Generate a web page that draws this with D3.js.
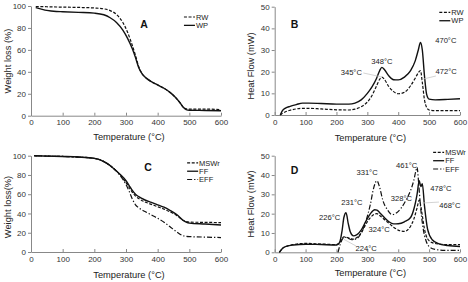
<!DOCTYPE html>
<html>
<head>
<meta charset="utf-8">
<script src="https://cdn.jsdelivr.net/npm/d3@7"></script>
<style>
  body { margin: 0; background: #fff; }
  svg { font-family: "Liberation Sans", Arial, sans-serif; }
  .axis path, .axis line { stroke: #888; }
  .axis text { fill: #333; font-size: 8px; }
</style>
</head>
<body>
<script>
// ---- data ----
var xTicks = [0, 100, 200, 300, 400, 500, 600];

// A: TGA of RW / WP
var tempA = [15, 30, 50, 80, 100, 150, 200, 230, 250, 270, 290, 305, 320, 330, 340, 350, 365, 380, 400, 420, 440, 455, 470, 480, 490, 500, 550, 600];
var rwA   = [99.5, 99.5, 99.3, 99.1, 99, 98.7, 98.2, 97.4, 95.8, 92.3, 85, 76, 64, 55, 45, 38.5, 34, 31, 28, 25, 21, 17, 12, 8, 6.3, 6, 6, 5.6];
var wpA   = [98.5, 97.4, 96, 95, 94.8, 94.2, 93.5, 92, 89.3, 85, 78, 70.5, 61, 53, 44, 38.5, 34, 31, 28, 25, 21, 17, 12, 8, 5.6, 5, 4.8, 4.5];

// B: DSC of RW / WP
var tempB = [18, 25, 35, 50, 70, 90, 110, 150, 200, 240, 260, 280, 300, 315, 330, 340, 347, 355, 370, 385, 400, 420, 440, 455, 465, 472, 478, 485, 492, 500, 520, 560, 600];
var wpB   = [0, 2, 3.2, 4, 4.8, 5.5, 5.5, 5.3, 5, 5, 5.5, 7, 10, 13, 17, 20.5, 22, 21, 18, 16.3, 16.2, 17.5, 20.5, 25, 30, 33.5, 30, 18, 9.5, 7.3, 7, 7.2, 7.5];
var rwB   = [0, 0.8, 1.5, 2.2, 2.8, 3.1, 3.1, 2.8, 2.4, 2.3, 2.7, 3.8, 6, 9, 13.5, 16.5, 17.5, 16.5, 13, 10.8, 9.8, 10.5, 13.5, 17, 19.5, 20.5, 15, 7, 3.5, 2.3, 2, 2, 2];

// C: TGA of MSWr / FF / EFF
var tempC  = [10, 50, 100, 150, 200, 220, 240, 260, 280, 300, 310, 320, 330, 340, 360, 380, 400, 420, 440, 460, 480, 490, 500, 550, 600];
var mswrC  = [100, 99.6, 99.2, 98.6, 97.2, 95.5, 92, 87, 80.5, 72, 67, 62, 58, 55.5, 52, 49.5, 47, 44.5, 41.5, 38, 33, 31.5, 31, 30.8, 30.5];
var ffC    = [100, 99.6, 99.2, 98.6, 97.2, 95.5, 92, 87, 81, 74, 69, 64, 60, 57.5, 54, 51.5, 49, 46.5, 43, 39, 33, 31, 30, 29, 28];
var effC   = [100, 99.6, 99.2, 98.6, 97.2, 95.5, 92, 87, 80, 70, 63, 55, 49, 46, 42, 38.5, 35, 31, 26, 21, 17, 16.3, 16, 15.5, 15];

// D: DSC of MSWr / FF / EFF
var tempD  = [15, 25, 40, 60, 100, 150, 200, 210, 218, 224, 231, 238, 245, 255, 265, 280, 295, 310, 324, 331, 340, 355, 370, 385, 400, 420, 440, 450, 461, 468, 473, 478, 485, 495, 510, 530, 560, 600];
var mswrD  = [0, 2, 3.2, 4, 4.6, 4.3, 4, 5, 7, 8, 7.8, 7.5, 7.2, 6.8, 7.5, 10, 14.5, 18, 19.8, 20, 19, 17, 15, 13, 11.5, 10.8, 13.5, 17, 23, 27, 24, 19, 12, 7, 5, 4.3, 4, 4];
var ffD    = [0, 2, 3.2, 3.8, 4.2, 4, 3.8, 5, 11, 18, 20.5, 15, 10.5, 8.5, 9, 11.5, 16, 20, 22, 21.8, 20.5, 18, 15.8, 14.7, 14.8, 15.8, 18, 22, 30, 37, 34, 35.5, 24, 12, 6.5, 4.5, 3.5, 3];
var tempE  = [205, 212, 220, 226, 235, 250, 265, 280, 295, 310, 320, 331, 340, 350, 365, 380, 395, 410, 425, 440, 450, 457, 461, 466, 472, 480, 490, 500, 520, 550, 600];
var effD   = [0, 4, 7, 7.8, 7.5, 6.5, 7, 10, 16, 25, 33, 37, 33.5, 27, 22, 19.5, 20.5, 23, 27, 32, 37, 42, 44, 36, 24, 13, 6, 3, 1.5, 1, 1];

var dashes = { solid: null, dash: "3,1.6", dashdot: "5,2,1.3,2" };

var svg = d3.select("body").append("svg")
    .attr("width", 468).attr("height", 282);

function zip(xs, ys){ return xs.map(function(t, i){ return [t, ys[i]]; }); }

function panel(opt){
    var x = d3.scaleLinear().domain([0, 600]).range(opt.xr);
    var y = d3.scaleLinear().domain([0, opt.ymax]).range(opt.yr);
    var g = svg.append("g");

    g.append("g").attr("class", "axis")
        .attr("transform", "translate(0," + opt.yr[0] + ")")
        .call(d3.axisBottom(x).tickValues(xTicks).tickSizeInner(-3).tickSizeOuter(0).tickPadding(4));
    g.append("g").attr("class", "axis")
        .attr("transform", "translate(" + opt.xr[0] + ",0)")
        .call(d3.axisLeft(y).ticks(5).tickSizeInner(3).tickSizeOuter(0).tickPadding(2));
    g.selectAll(".axis .domain").attr("stroke", "#888");

    var line = d3.line().x(function(d){ return x(d[0]); }).y(function(d){ return y(d[1]); })
        .curve(d3.curveMonotoneX);

    opt.series.forEach(function(s){
        g.append("path").datum(zip(s.t, s.v))
            .attr("d", line).attr("fill", "none").attr("stroke", "#111")
            .attr("stroke-width", s.style == "solid" ? 1.4 : 1.2)
            .attr("stroke-dasharray", dashes[s.style]);
    });

    // axis titles
    g.append("text").attr("x", (opt.xr[0] + opt.xr[1]) / 2 + 3).attr("y", opt.xtY)
        .attr("text-anchor", "middle").attr("font-size", 9.3).attr("fill", "#222")
        .text("Temperature (°C)");
    g.append("text").attr("transform", "translate(" + opt.ytX + "," + opt.ytY + ") rotate(-90)")
        .attr("text-anchor", "middle").attr("font-size", 9.3).attr("fill", "#222")
        .text(opt.ylabel);

    // panel letter
    g.append("text").attr("x", x(opt.letterAt[0])).attr("y", y(opt.letterAt[1]))
        .attr("font-size", 10.5).attr("font-weight", "bold").attr("fill", "#111")
        .text(opt.letter);

    // legend
    opt.series.forEach(function(s, i){
        var ly = y(opt.legendAt[1]) + i * opt.legendStep;
        var lx = x(opt.legendAt[0]);
        g.append("line").attr("x1", lx).attr("x2", lx + 11).attr("y1", ly).attr("y2", ly)
            .attr("stroke", "#111").attr("stroke-width", s.style == "solid" ? 1.3 : 1.1)
            .attr("stroke-dasharray", dashes[s.style]);
        g.append("text").attr("x", lx + 12).attr("y", ly).attr("dy", "0.35em")
            .attr("font-size", 7.5).attr("fill", "#222").text(s.name);
    });

    // leader lines and peak labels
    (opt.leaders || []).forEach(function(l){
        g.append("line").attr("x1", x(l[0])).attr("y1", y(l[1])).attr("x2", x(l[2])).attr("y2", y(l[3]))
            .attr("stroke", "#c8c8c8").attr("stroke-width", 0.8);
    });
    (opt.notes || []).forEach(function(n){
        g.append("text").attr("x", x(n.t)).attr("y", y(n.v)).attr("dy", "0.35em")
            .attr("text-anchor", "middle").attr("font-size", 7.6).attr("fill", "#222")
            .text(n.label);
    });
}

panel({
    xr: [31, 221], yr: [115.7, 6], ymax: 100, ylabel: "Weight loss (%)",
    xtY: 139.5, ytX: 10.5, ytY: 61,
    letter: "A", letterAt: [345, 80], legendAt: [483, 90], legendStep: 8.4,
    series: [
        { name: "RW", t: tempA, v: rwA, style: "dash" },
        { name: "WP", t: tempA, v: wpA, style: "solid" }
    ]
});

panel({
    xr: [274.7, 460], yr: [115, 6.7], ymax: 50, ylabel: "Heat Flow (mW)",
    xtY: 140.5, ytX: 254, ytY: 66,
    letter: "B", letterAt: [52, 40], legendAt: [533, 47.4], legendStep: 8.4,
    series: [
        { name: "RW", t: tempB, v: rwB, style: "dash" },
        { name: "WP", t: tempB, v: wpB, style: "solid" }
    ],
    leaders: [[287, 19.4, 345, 17.6], [478, 16.5, 522, 18]],
    notes: [
        { label: "348°C", t: 347, v: 24.6 },
        { label: "345°C", t: 248, v: 19.5 },
        { label: "470°C", t: 554, v: 34.6 },
        { label: "472°C", t: 555, v: 20 }
    ]
});

panel({
    xr: [31, 221], yr: [252, 155.7], ymax: 100, ylabel: "Weight  loss(%)",
    xtY: 277.5, ytX: 10.5, ytY: 207,
    letter: "C", letterAt: [358, 84], legendAt: [493, 92.5], legendStep: 8.3,
    series: [
        { name: "MSWr", t: tempC, v: mswrC, style: "dash" },
        { name: "FF", t: tempC, v: ffC, style: "solid" },
        { name: "EFF", t: tempC, v: effC, style: "dashdot" }
    ]
});

panel({
    xr: [274.7, 460], yr: [252.3, 155.7], ymax: 50, ylabel: "Heat Flow (mW)",
    xtY: 276, ytX: 254, ytY: 204,
    letter: "D", letterAt: [52, 40.5], legendAt: [513, 51.7], legendStep: 8.3,
    series: [
        { name: "MSWr", t: tempD, v: mswrD, style: "dash" },
        { name: "FF", t: tempD, v: ffD, style: "solid" },
        { name: "EFF", t: tempE, v: effD, style: "dashdot" }
    ],
    leaders: [[478, 25.5, 532, 26], [224, 6.7, 263, 3.3]],
    notes: [
        { label: "331°C", t: 299, v: 41.2 },
        { label: "461°C", t: 427, v: 45 },
        { label: "231°C", t: 250, v: 26 },
        { label: "328°C", t: 410, v: 28.1 },
        { label: "226°C", t: 178, v: 17.9 },
        { label: "324°C", t: 338, v: 11.9 },
        { label: "224°C", t: 296, v: 2.1 },
        { label: "478°C", t: 538, v: 32.9 },
        { label: "468°C", t: 567, v: 24.5 }
    ]
});
</script>
</body>
</html>
